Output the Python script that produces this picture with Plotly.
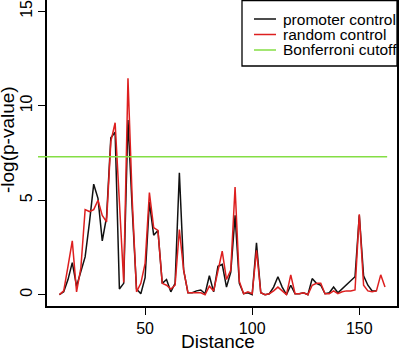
import plotly.graph_objects as go

# ---- data ----
distance = list(range(10, 163, 2))  # 10, 12, ..., 162

promoter_control = [
    0.0, 0.15, 0.8, 1.7, 0.45, 1.3, 2.0, 3.8, 5.85, 5.1,      # 10-28
    2.85, 4.1, 8.3, 8.6, 0.3, 0.6, 9.25, 4.5, 0.3, 0.05,      # 30-48
    0.9, 4.9, 3.15, 3.4, 0.6, 0.8, 0.15, 0.6, 6.45, 1.3,      # 50-68
    0.1, 0.1, 0.2, 0.25, 0.05, 1.0, 0.15, 1.5, 1.6, 0.4,      # 70-88
    1.2, 4.2, 0.6, 0.05, 0.1, 0.0, 2.75, 0.1, 0.0, 0.05,      # 90-108
    0.4, 0.95, 0.4, 0.0, 0.5, 0.05, 0.05, 0.1, 0.0, 0.85,     # 110-128
    0.6, 0.5, 0.05, 0.1, 0.4, 0.1, 0.3, 0.5, 0.7, 0.95,       # 130-148
    4.2, 1.0, 0.5, 0.2, 0.2,                                  # 150-158
]
promoter_distance = distance[:len(promoter_control)]

random_control = [
    0.0, 0.2, 1.5, 2.85, 0.15, 1.4, 4.5, 4.4, 4.5, 5.0,       # 10-28
    4.2, 3.85, 8.1, 9.1, 4.9, 0.65, 11.45, 5.0, 0.15, 0.6,    # 30-48
    1.65, 5.4, 3.55, 3.4, 0.6, 0.5, 0.3, 0.5, 3.45, 1.3,      # 50-68
    0.1, 0.1, 0.1, 0.1, 0.0, 0.45, 0.2, 1.3, 2.3, 0.8,        # 70-88
    1.3, 5.7, 0.7, 0.05, 0.15, 0.05, 2.35, 0.1, 0.0, 0.05,    # 90-108
    0.2, 0.4, 0.2, 0.0, 1.05, 0.05, 0.05, 0.1, 0.0, 0.5,      # 110-128
    0.6, 0.6, 0.05, 0.05, 0.2, 0.05, 0.15, 0.2, 0.2, 0.25,    # 130-148
    4.25, 0.5, 0.2, 0.15, 0.2, 1.05, 0.4,                     # 150-162
]

bonferroni_x = [0, 163]
bonferroni_cutoff = 7.3

x_ticks = [50, 100, 150]
y_ticks = [0, 5, 10, 15]

series_names = ["promoter control", "random control", "Bonferroni cutoff"]
series_colors = ["#111111", "#DD1F1F", "#84DE44"]

# ---- layout geometry (pixels) ----
W, H = 401, 350
ML, MR, MT, MB = 37, 4, 0, 44
box_left_px = 47            # left edge of the framed plot region
x_range = [4.2, 167.6]
y_range = [-0.6, 15.6]

paper_w = W - ML - MR
plot_h = H - MT - MB
main_dom0 = (box_left_px - ML) / paper_w
units_per_px = (x_range[1] - x_range[0]) / ((1 - main_dom0) * paper_w)
x2_range = [x_range[0] - (box_left_px - ML) * units_per_px, x_range[1]]


def xp(px):
    return (px - ML) / paper_w


def yp(py):
    return 1 - (py - MT) / plot_h


FONT = "Liberation Sans, Arial, Helvetica, sans-serif"

fig = go.Figure()
fig.add_trace(go.Scatter(
    x=promoter_distance, y=promoter_control, mode="lines",
    name=series_names[0], line=dict(color=series_colors[0], width=1.5),
    showlegend=False,
))
fig.add_trace(go.Scatter(
    x=distance, y=random_control, mode="lines",
    name=series_names[1], line=dict(color=series_colors[1], width=1.5),
    showlegend=False,
))
fig.add_trace(go.Scatter(
    x=bonferroni_x, y=[bonferroni_cutoff] * len(bonferroni_x), mode="lines",
    name=series_names[2], line=dict(color=series_colors[2], width=1.5),
    xaxis="x2", yaxis="y", showlegend=False,
))

axis_common = dict(
    showgrid=False, zeroline=False, showline=True, mirror=True,
    linecolor="black", linewidth=1.5, ticks="outside", ticklen=7,
    tickwidth=1.3, tickcolor="black", automargin=False,
    ticklabeloverflow="allow",
    tickfont=dict(family=FONT, size=16, color="black"),
)

# ---- hand-drawn legend box (R style) ----
legend_box = dict(x0=242, x1=397, y0=0.5, y1=66)
legend_rows_y = [19, 34.5, 50]
shapes = [dict(
    type="rect", xref="paper", yref="paper",
    x0=xp(legend_box["x0"]), x1=xp(legend_box["x1"]),
    y0=yp(legend_box["y1"]), y1=yp(legend_box["y0"]),
    line=dict(color="black", width=1.3), fillcolor="white", layer="above",
)]
annotations = []
for name, color, ry in zip(series_names, series_colors, legend_rows_y):
    shapes.append(dict(
        type="line", xref="paper", yref="paper",
        x0=xp(254), x1=xp(276), y0=yp(ry), y1=yp(ry),
        line=dict(color=color, width=1.5), layer="above",
    ))
    annotations.append(dict(
        text=name, xref="paper", yref="paper", x=xp(281), y=yp(ry),
        xanchor="left", yanchor="middle", showarrow=False,
        font=dict(family=FONT, size=15.5, color="black"),
    ))

# axis titles as annotations for precise placement
annotations.append(dict(
    text="Distance", xref="paper", yref="paper", x=xp(217.5), y=yp(341),
    xanchor="center", yanchor="middle", showarrow=False,
    font=dict(family=FONT, size=19, color="black"),
))
annotations.append(dict(
    text="-log(p-value)", xref="paper", yref="paper", x=xp(8), y=yp(140),
    xanchor="center", yanchor="middle", showarrow=False, textangle=-90,
    font=dict(family=FONT, size=19, color="black"),
))

fig.update_layout(
    width=W, height=H,
    margin=dict(l=ML, r=MR, t=MT, b=MB, autoexpand=False),
    paper_bgcolor="white", plot_bgcolor="rgba(0,0,0,0)",
    font=dict(family=FONT, color="black"),
    xaxis=dict(domain=[main_dom0, 1], range=x_range, tickvals=x_ticks,
               **axis_common),
    xaxis2=dict(domain=[0, 1], range=x2_range, anchor="y", visible=False),
    yaxis=dict(range=y_range, tickvals=y_ticks, tickangle=-90, **axis_common),
    shapes=shapes,
    annotations=annotations,
    showlegend=False,
)

fig.write_html(
    "out.html",
    config={"displayModeBar": False},
    post_script="document.body.style.margin='0px';",
)
